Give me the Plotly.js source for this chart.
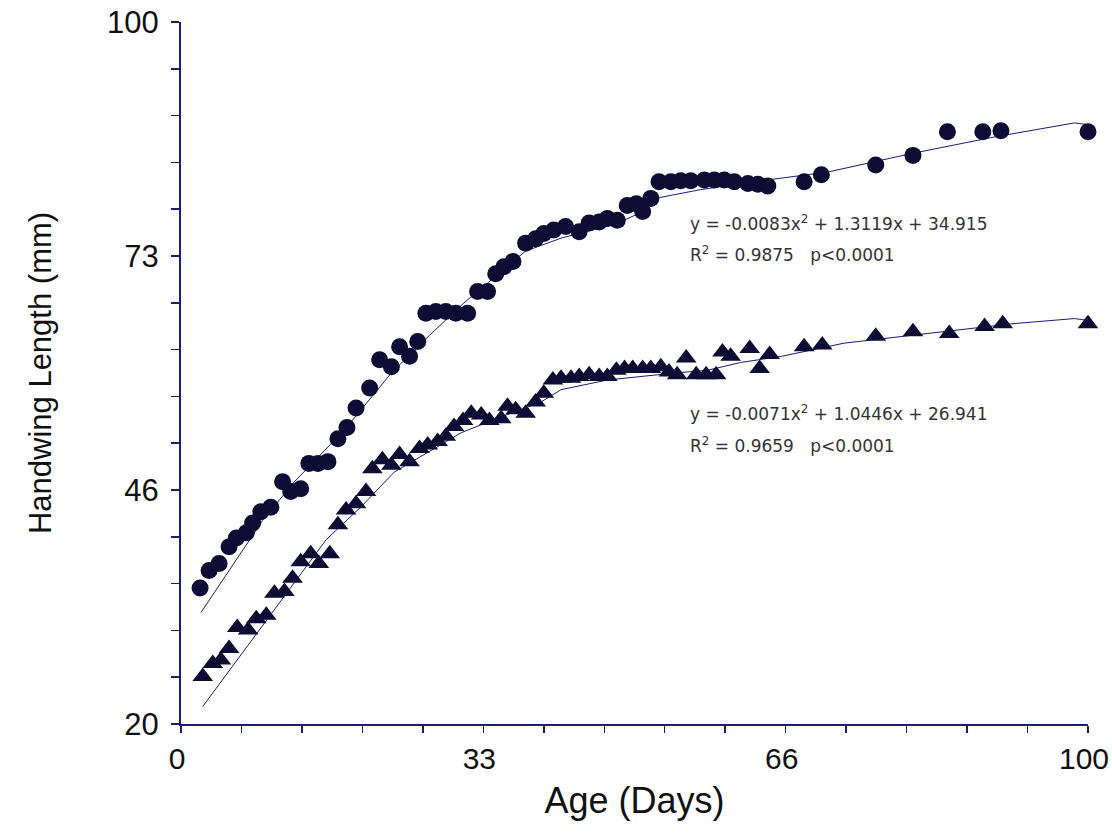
<!DOCTYPE html>
<html>
<head>
<meta charset="utf-8">
<script src="https://cdn.plot.ly/plotly-3.0.1.min.js"></script>
<style>html,body{margin:0;padding:0;background:#fff;}#chart{width:1112px;height:833px;}</style>
</head>
<body>
<div id="chart"></div>
<script>
// Upper series (circles)
const circleAge = [2.1,3.1,4.2,5.3,6.1,7.2,7.9,8.8,9.9,11.2,12.1,13.2,14.1,15.1,16.2,17.3,18.3,19.3,20.8,21.9,23.2,24.1,25.2,26.1,27.0,28.1,29.2,30.3,31.6,32.7,33.8,34.7,35.6,36.6,38.0,39.1,40.0,41.1,42.4,43.9,45.0,46.1,47.0,48.1,49.2,50.2,50.9,51.8,52.7,54.0,55.1,56.2,57.7,58.8,59.9,61.0,62.5,63.6,64.7,68.7,70.6,76.6,80.7,84.5,88.4,90.4,100];
const circleLen = [35.5,37.5,38.3,40.2,41.2,41.8,42.9,44.2,44.7,47.6,46.5,46.8,49.7,49.7,49.9,52.5,53.8,56.0,58.3,61.5,60.7,63.0,61.9,63.6,66.8,67.0,67.0,66.8,66.8,69.3,69.3,71.3,72.1,72.7,74.8,75.3,75.9,76.3,76.7,76.1,77.1,77.2,77.6,77.4,79.1,79.3,78.4,79.9,81.8,81.8,81.9,81.9,82.0,82.0,82.0,81.8,81.6,81.5,81.3,81.8,82.6,83.7,84.8,87.5,87.5,87.6,87.5];

// Lower series (triangles)
const triAge = [2.4,3.5,4.4,5.3,6.2,7.4,8.3,9.4,10.3,11.4,12.3,13.2,14.3,15.2,16.4,17.3,18.2,19.3,20.4,21.1,22.2,23.2,24.1,25.2,26.3,27.2,28.3,29.2,30.1,31.1,32.0,33.1,34.0,35.3,36.0,36.9,38.0,39.1,40.0,41.0,41.9,43.0,43.9,45.0,46.1,47.0,48.0,48.9,49.8,50.9,51.8,52.9,53.8,54.7,55.7,56.8,57.9,59.0,59.7,60.6,62.7,63.8,64.9,68.7,70.7,76.6,80.7,84.7,88.6,90.6,100];
const triLen = [25.4,26.9,27.3,28.6,31.0,30.7,32.0,32.4,34.9,35.1,36.6,38.5,39.4,38.3,39.4,42.7,44.4,45.1,46.5,49.1,50.1,49.5,50.7,49.9,51.4,51.8,52.2,52.8,53.9,54.6,55.4,55.2,54.6,54.8,56.2,55.8,55.4,56.7,57.7,59.2,59.4,59.4,59.6,59.8,59.6,59.6,60.3,60.5,60.5,60.5,60.5,60.7,60.1,59.8,61.7,59.8,59.8,59.8,62.4,61.9,62.8,60.5,62.1,63.0,63.2,64.2,64.7,64.5,65.3,65.6,65.6];

// Fitted curves as drawn
const fitUpAge = [2.2,9.0,12.5,18.0,23.2,27.4,31.1,35.3,38.0,42.0,48.0,50.5,52.8,57.3,63.9,71.3,80.5,89.7,98.5,100];
const fitUpLen = [32.7,43.2,47.6,53.5,60.0,64.3,67.9,71.5,73.9,75.4,77.0,78.2,80.0,80.9,81.9,82.9,85.0,86.9,88.5,88.3];
const fitLoAge = [2.4,16.0,19.9,23.5,30.9,35.3,39.7,41.9,47.0,54.4,58.0,61.7,66.2,73.1,82.3,91.5,98.5,100];
const fitLoLen = [22.0,41.0,44.8,48.7,53.2,55.0,56.7,58.1,59.2,60.0,60.3,61.2,61.9,63.4,64.5,65.6,66.2,66.0];

// Axis ticks
const xTickVals = [0, 100/3, 200/3, 100];
const xTickText = ['0','33','66','100'];
const yTickVals = [20, 20+80/3, 20+160/3, 100];
const yTickText = ['20','46','73','100'];

// Equation labels
const eqText = ['y = -0.0083x<sup>2</sup> + 1.3119x + 34.915', 'R<sup>2</sup> = 0.9875   p&lt;0.0001', 'y = -0.0071x<sup>2</sup> + 1.0446x + 26.941', 'R<sup>2</sup> = 0.9659   p&lt;0.0001'];
const eqX = [55.9, 55.9, 55.9, 55.9];
const eqY = [77.1, 73.6, 55.4, 51.8];

const navy = '#1c1c78';
const mark = '#0c0c34';

const traces = [
  {x: fitUpAge, y: fitUpLen, mode: 'lines', line: {color: navy, width: 1}, hoverinfo: 'skip'},
  {x: fitLoAge, y: fitLoLen, mode: 'lines', line: {color: navy, width: 1}, hoverinfo: 'skip'},
  {x: circleAge, y: circleLen, mode: 'markers', cliponaxis: false, marker: {symbol: 'circle', size: 17, color: mark}},
  {x: triAge, y: triLen, mode: 'markers', cliponaxis: false, marker: {symbol: 'triangle-up', size: 18, color: mark}}
];

const annotations = eqText.map((t, i) => ({
  x: eqX[i], y: eqY[i], xref: 'x', yref: 'y', text: t, showarrow: false,
  xanchor: 'left', yanchor: 'middle', font: {family: 'DejaVu Sans', size: 17, color: '#333'}
}));

const layout = {
  width: 1112, height: 833,
  margin: {l: 181, r: 24, t: 22, b: 109},
  paper_bgcolor: '#fff', plot_bgcolor: '#fff',
  showlegend: false,
  font: {family: 'Liberation Sans, Arial, sans-serif', color: '#111'},
  xaxis: {
    range: [0, 100], showgrid: false, zeroline: false,
    showline: true, linecolor: navy, linewidth: 2,
    tickmode: 'array', tickvals: xTickVals, ticktext: xTickText,
    ticks: 'outside', ticklen: 7, tickcolor: navy, tickwidth: 1.5,
    minor: {tick0: 0, dtick: 100/15, ticks: 'outside', ticklen: 7, tickcolor: navy, tickwidth: 1.5, showgrid: false},
    tickfont: {size: 30, color: '#111'},
    ticklabeloverflow: 'allow',
    ticklabelshift: -4,
    title: {text: 'Age (Days)', font: {size: 36, color: '#111'}, standoff: 14}
  },
  yaxis: {
    range: [20, 100], showgrid: false, zeroline: false,
    showline: true, linecolor: navy, linewidth: 2,
    tickmode: 'array', tickvals: yTickVals, ticktext: yTickText,
    ticks: 'outside', ticklen: 8, tickcolor: navy, tickwidth: 1.5,
    minor: {tick0: 20, dtick: 16/3, ticks: 'outside', ticklen: 8, tickcolor: navy, tickwidth: 1.5, showgrid: false},
    tickfont: {size: 31, color: '#111'},
    ticklabeloverflow: 'allow',
    ticklabelstandoff: 6,
    title: {text: 'Handwing Length (mm)', font: {size: 31, color: '#111'}, standoff: 46}
  },
  annotations: annotations
};

Plotly.newPlot('chart', traces, layout, {displayModeBar: false, staticPlot: true});
</script>
</body>
</html>
